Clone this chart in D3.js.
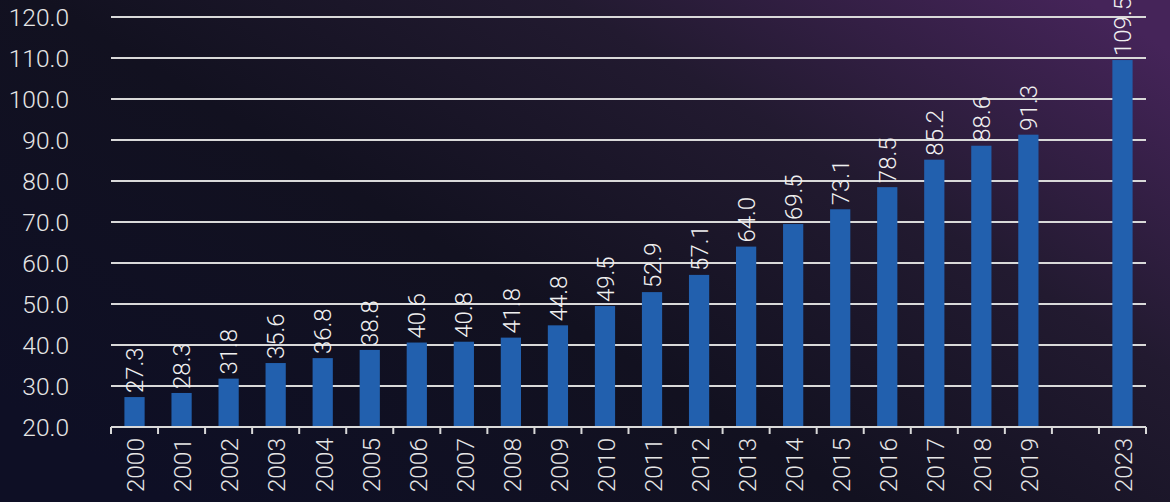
<!DOCTYPE html>
<html>
<head>
<meta charset="utf-8">
<script src="https://cdn.jsdelivr.net/npm/d3@7"></script>
<style>
  body { margin: 0; background: #0d0e1c; }
  text { font-family: Roboto, "Liberation Sans", sans-serif; font-weight: 300; }
</style>
</head>
<body>
<div id="chart"></div>
<script>
// data
var years = ["2000", "2001", "2002", "2003", "2004", "2005", "2006", "2007", "2008", "2009",
  "2010", "2011", "2012", "2013", "2014", "2015", "2016", "2017", "2018", "2019", "", "2023"];
var values = [27.3, 28.3, 31.8, 35.6, 36.8, 38.8, 40.6, 40.8, 41.8, 44.8,
  49.5, 52.9, 57.1, 64.0, 69.5, 73.1, 78.5, 85.2, 88.6, 91.3, null, 109.5];
var yTicks = [20, 30, 40, 50, 60, 70, 80, 90, 100, 110, 120];

var svgWidth = 1170;
var svgHeight = 502;
var margin = { top: 17, right: 24, bottom: 75, left: 111 };
var width = svgWidth - margin.left - margin.right;
var height = svgHeight - margin.top - margin.bottom;

var svg = d3.select("#chart")
  .append("svg")
  .attr("width", svgWidth)
  .attr("height", svgHeight);

// background gradient
var defs = svg.append("defs");
var grad = defs.append("linearGradient")
  .attr("id", "bg")
  .attr("x1", "0").attr("y1", "0.8")
  .attr("x2", "1").attr("y2", "0.1");
grad.append("stop").attr("offset", "0").attr("stop-color", "#0e0f25");
grad.append("stop").attr("offset", "0.4").attr("stop-color", "#121120");
grad.append("stop").attr("offset", "0.7").attr("stop-color", "#221a30");
grad.append("stop").attr("offset", "1").attr("stop-color", "#452459");
svg.append("rect")
  .attr("width", svgWidth)
  .attr("height", svgHeight)
  .attr("fill", "url(#bg)");

var chartGroup = svg.append("g")
  .attr("transform", `translate(${margin.left}, ${margin.top})`);

var data = years.map(function(y, i) { return { key: i, year: y, value: values[i] }; });

var xScale = d3.scaleBand()
  .domain(data.map(d => d.key))
  .range([0, width])
  .paddingInner(0.57)
  .paddingOuter(0.285);

var slot = d3.scaleBand()
  .domain(data.map(d => d.key))
  .range([0, width]);

var yScale = d3.scaleLinear()
  .domain([20, 120])
  .range([height, 0]);

// gridlines
chartGroup.selectAll(".grid")
  .data(yTicks.slice(1))
  .enter()
  .append("line")
  .attr("x1", 0)
  .attr("x2", width)
  .attr("y1", d => yScale(d))
  .attr("y2", d => yScale(d))
  .attr("stroke", "#d9d9d9")
  .attr("stroke-width", 2);

// y labels
chartGroup.selectAll(".ylab")
  .data(yTicks)
  .enter()
  .append("text")
  .attr("x", -42)
  .attr("y", d => yScale(d))
  .attr("dy", "0.36em")
  .attr("text-anchor", "end")
  .attr("font-size", "24.5px")
  .attr("fill", "#e6e6e6")
  .text(d => d.toFixed(1));

// bars
var barData = data.filter(d => d.value !== null);
chartGroup.selectAll("rect")
  .data(barData)
  .enter()
  .append("rect")
  .attr("x", d => xScale(d.key))
  .attr("width", xScale.bandwidth())
  .attr("y", d => yScale(d.value))
  .attr("height", d => height - yScale(d.value))
  .attr("fill", "#2260ae");

// value labels
chartGroup.selectAll(".val")
  .data(barData)
  .enter()
  .append("text")
  .attr("transform", d => `translate(${xScale(d.key) + xScale.bandwidth() / 2}, ${yScale(d.value) - 4}) rotate(-90)`)
  .attr("dy", "0.36em")
  .attr("font-size", "24px")
  .attr("fill", "#f0f0f0")
  .text(d => d.value.toFixed(1));

// x axis line + ticks at slot boundaries
chartGroup.append("line")
  .attr("x1", 0).attr("x2", width)
  .attr("y1", height).attr("y2", height)
  .attr("stroke", "#d9d9d9")
  .attr("stroke-width", 2);

var bounds = data.map(d => slot(d.key)).concat([width]);
chartGroup.selectAll(".tick")
  .data(bounds)
  .enter()
  .append("line")
  .attr("x1", d => d).attr("x2", d => d)
  .attr("y1", height).attr("y2", height + 7)
  .attr("stroke", "#d9d9d9")
  .attr("stroke-width", 2);

// x labels
chartGroup.selectAll(".xlab")
  .data(data.filter(d => d.year !== ""))
  .enter()
  .append("text")
  .attr("transform", d => `translate(${slot(d.key) + slot.bandwidth() / 2 + 1}, ${height + 11}) rotate(-90)`)
  .attr("text-anchor", "end")
  .attr("dy", "0.36em")
  .attr("font-size", "24.5px")
  .attr("fill", "#e6e6e6")
  .text(d => d.year);
</script>
</body>
</html>
